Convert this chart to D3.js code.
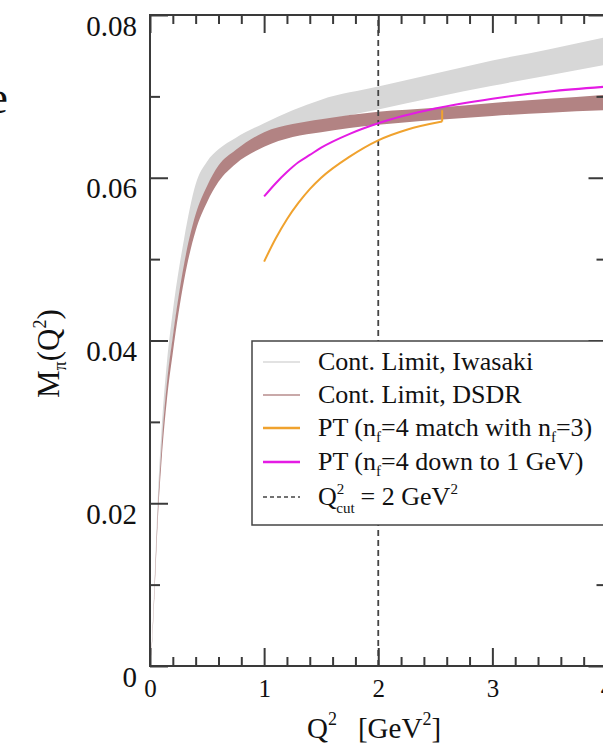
<!DOCTYPE html>
<html>
<head>
<meta charset="utf-8">
<script src="https://cdn.jsdelivr.net/npm/d3@7"></script>
<style>
  html, body { margin: 0; padding: 0; background: #fff; }
  svg { display: block; }
  text { font-family: "Liberation Serif", "DejaVu Serif", serif; fill: #111; }
</style>
</head>
<body>
<svg id="chart" width="603" height="745"></svg>
<script>
// Q^2 grid (GeV^2) for the continuum-limit bands
const q2Band = [0, 0.02, 0.04, 0.07, 0.10, 0.15, 0.20, 0.30, 0.40, 0.50, 0.60, 0.75, 1.00, 1.25, 1.50, 2.00, 2.50, 3.00, 3.50, 4.00];

// Iwasaki continuum limit: lower / upper edge of the band
const iwasakiLow  = [0, 0.0034, 0.0094, 0.0190, 0.0260, 0.0345, 0.0402, 0.0490, 0.0550, 0.0584, 0.0605, 0.0622, 0.0643, 0.0658, 0.0669, 0.0684, 0.0699, 0.0713, 0.0726, 0.0739];
const iwasakiHigh = [0, 0.0040, 0.0106, 0.0212, 0.0288, 0.0376, 0.0436, 0.0526, 0.0592, 0.0620, 0.0635, 0.0649, 0.0667, 0.0683, 0.0696, 0.0712, 0.0728, 0.0744, 0.0758, 0.0773];

// DSDR continuum limit: lower / upper edge of the band
const dsdrLow  = [0, 0.0032, 0.0090, 0.0183, 0.0250, 0.0330, 0.0385, 0.0475, 0.0535, 0.0570, 0.0595, 0.0617, 0.0638, 0.0650, 0.0656, 0.0665, 0.0671, 0.0676, 0.0680, 0.0683];
const dsdrHigh = [0, 0.0036, 0.0098, 0.0195, 0.0266, 0.0350, 0.0405, 0.0495, 0.0555, 0.0590, 0.0615, 0.0634, 0.0656, 0.0666, 0.0672, 0.0681, 0.0686, 0.0692, 0.0697, 0.0702];

// Perturbative curve, n_f=4 matched with n_f=3
const ptMatchQ2  = [1.00, 1.10, 1.20, 1.30, 1.40, 1.50, 1.75, 2.00, 2.25, 2.56];
const ptMatchVal = [0.0497, 0.0525, 0.0549, 0.0569, 0.0586, 0.0600, 0.0626, 0.0646, 0.0659, 0.0669];
// step at the matching point
const ptMatchStepQ2  = [2.56, 2.56];
const ptMatchStepVal = [0.0669, 0.0683];

// Perturbative curve, n_f=4 run down to 1 GeV
const ptDownQ2  = [1.00, 1.10, 1.20, 1.30, 1.40, 1.50, 1.75, 2.00, 2.50, 3.00, 3.50, 4.00];
const ptDownVal = [0.0577, 0.0593, 0.0607, 0.0619, 0.0628, 0.0637, 0.0654, 0.0667, 0.0685, 0.0697, 0.0706, 0.0712];

// Cut position
const q2Cut = 2;

// Axis ticks
const xMajor = [0, 1, 2, 3, 4];
const xTickLabels = ["0", "1", "2", "3", "4"];
const xMinor = d3.range(0, 20).map(i => i * 0.2).filter(v => Math.abs(v - Math.round(v)) > 1e-6);
const yMajor = [0, 0.02, 0.04, 0.06, 0.08];
const yTickLabels = ["0", "0.02", "0.04", "0.06", "0.08"];
const yMinor = [0.01, 0.03, 0.05, 0.07];

// Legend entries
const legendKeys = ["iwasaki", "dsdr", "ptMatch", "ptDown", "cut"];

const svg = d3.select("#chart");

const pLeft = 150, pRight = 606.5, pTop = 15, pBottom = 666;
const x = d3.scaleLinear().domain([0, 4]).range([pLeft, pRight]);
const y = d3.scaleLinear().domain([0, 0.08]).range([pBottom, pTop]);

const colors = {
  iwasakiBand: "#d7d7d7",
  dsdrBand: "#b28383",
  iwasakiLine: "#e2e2e2",
  dsdrLine: "#c9a9a9",
  ptMatch: "#f0a22e",
  ptDown: "#e41be4",
  axis: "#3a3a3a"
};

svg.append("defs").append("clipPath").attr("id", "plotclip")
  .append("rect").attr("x", pLeft).attr("y", pTop).attr("width", pRight - pLeft).attr("height", pBottom - pTop);

const plot = svg.append("g").attr("clip-path", "url(#plotclip)");

const area = d3.area()
  .x(d => x(d[0])).y0(d => y(d[1])).y1(d => y(d[2]))
  .curve(d3.curveMonotoneX);
const line = d3.line().x(d => x(d[0])).y(d => y(d[1])).curve(d3.curveMonotoneX);

plot.append("path")
  .datum(q2Band.map((q, i) => [q, iwasakiLow[i], iwasakiHigh[i]]))
  .attr("d", area).attr("fill", colors.iwasakiBand);

plot.append("path")
  .datum(q2Band.map((q, i) => [q, dsdrLow[i], dsdrHigh[i]]))
  .attr("d", area).attr("fill", colors.dsdrBand);

// Q^2 cut line
plot.append("line")
  .attr("x1", x(q2Cut)).attr("x2", x(q2Cut))
  .attr("y1", y(0)).attr("y2", y(0.08))
  .attr("stroke", "#444").attr("stroke-width", 1.8)
  .attr("stroke-dasharray", "6,4");

plot.append("path")
  .datum(ptMatchQ2.map((q, i) => [q, ptMatchVal[i]]))
  .attr("d", line).attr("fill", "none")
  .attr("stroke", colors.ptMatch).attr("stroke-width", 2);
plot.append("path")
  .datum(ptMatchStepQ2.map((q, i) => [q, ptMatchStepVal[i]]))
  .attr("d", d3.line().x(d => x(d[0])).y(d => y(d[1])))
  .attr("fill", "none").attr("stroke", colors.ptMatch).attr("stroke-width", 2);

plot.append("path")
  .datum(ptDownQ2.map((q, i) => [q, ptDownVal[i]]))
  .attr("d", line).attr("fill", "none")
  .attr("stroke", colors.ptDown).attr("stroke-width", 2);

// Axes: ticks point inward on all four sides
function styleAxis(g) {
  g.select(".domain").remove();
  g.selectAll(".tick line").attr("stroke", colors.axis).attr("stroke-width", 2);
}

svg.append("g").attr("transform", `translate(0,${pBottom})`)
  .call(d3.axisBottom(x).tickValues(xMinor).tickSize(-9).tickFormat(""))
  .call(styleAxis);
const xAx = svg.append("g").attr("transform", `translate(0,${pBottom})`)
  .call(d3.axisBottom(x).tickValues(xMajor).tickSize(-18).tickFormat((d, i) => xTickLabels[i]))
  .call(styleAxis);
xAx.selectAll(".tick text")
  .attr("y", 31).attr("dy", null)
  .attr("font-size", 25).attr("font-family", "Liberation Serif").attr("fill", "#111");

svg.append("g").attr("transform", `translate(0,${pTop})`)
  .call(d3.axisTop(x).tickValues(xMinor).tickSize(-9).tickFormat(""))
  .call(styleAxis);
svg.append("g").attr("transform", `translate(0,${pTop})`)
  .call(d3.axisTop(x).tickValues(xMajor).tickSize(-18).tickFormat(""))
  .call(styleAxis);

svg.append("g").attr("transform", `translate(${pLeft},0)`)
  .call(d3.axisLeft(y).tickValues(yMinor).tickSize(-10).tickFormat(""))
  .call(styleAxis);
const yAx = svg.append("g").attr("transform", `translate(${pLeft},0)`)
  .call(d3.axisLeft(y).tickValues(yMajor).tickSize(-18).tickFormat((d, i) => yTickLabels[i]))
  .call(styleAxis);
yAx.selectAll(".tick text")
  .attr("x", -13).attr("y", 20).attr("dy", null)
  .attr("text-anchor", "end")
  .attr("font-size", 29).attr("font-family", "Liberation Serif").attr("fill", "#111");

svg.append("g").attr("transform", `translate(${pRight},0)`)
  .call(d3.axisRight(y).tickValues(yMinor).tickSize(-10).tickFormat(""))
  .call(styleAxis);
svg.append("g").attr("transform", `translate(${pRight},0)`)
  .call(d3.axisRight(y).tickValues(yMajor).tickSize(-18).tickFormat(""))
  .call(styleAxis);

// Frame
svg.append("rect")
  .attr("x", pLeft).attr("y", pTop).attr("width", pRight - pLeft).attr("height", pBottom - pTop)
  .attr("fill", "none").attr("stroke", colors.axis).attr("stroke-width", 2);

// Axis titles
const xt = svg.append("text").attr("x", 307).attr("y", 738).attr("font-size", 29);
xt.append("tspan").text("Q");
xt.append("tspan").attr("dy", -13).attr("font-size", 18).text("2");
xt.append("tspan").attr("dy", 13).attr("dx", 21).text("[GeV");
xt.append("tspan").attr("dy", -13).attr("font-size", 18).text("2");
xt.append("tspan").attr("dy", 13).text("]");

const yt = svg.append("text")
  .attr("transform", "translate(59,398) rotate(-90)")
  .attr("font-size", 31);
yt.append("tspan").text("M");
yt.append("tspan").attr("dy", 7).attr("font-size", 18).text("π");
yt.append("tspan").attr("dy", -7).text("(Q");
yt.append("tspan").attr("dy", -13).attr("font-size", 18).text("2");
yt.append("tspan").attr("dy", 13).text(")");

// Stray letter at the page edge
svg.append("text").attr("x", 8).attr("y", 113).attr("text-anchor", "end")
  .attr("font-size", 46).attr("font-family", "Liberation Serif").text("e");

// Legend
const lg = svg.append("g");
lg.append("rect").attr("x", 252).attr("y", 341).attr("width", 420).attr("height", 184)
  .attr("fill", "#fff").attr("stroke", "#444").attr("stroke-width", 1.5);

const rowY = { iwasaki: 362, dsdr: 395, ptMatch: 428, ptDown: 462, cut: 497 };
const lx0 = 263, lx1 = 300, tx = 318, fs = 26;

function sample(key, color, width, dash) {
  lg.append("line").attr("x1", lx0).attr("x2", lx1)
    .attr("y1", rowY[key]).attr("y2", rowY[key])
    .attr("stroke", color).attr("stroke-width", width)
    .attr("stroke-dasharray", dash || null);
}
sample(legendKeys[0], colors.iwasakiLine, 2);
sample(legendKeys[1], colors.dsdrLine, 2);
sample(legendKeys[2], colors.ptMatch, 2.5);
sample(legendKeys[3], colors.ptDown, 2.5);
sample(legendKeys[4], "#444", 1.5, "4,3");

function legendText(key) {
  return lg.append("text").attr("x", tx).attr("y", rowY[key] + 8).attr("font-size", fs);
}
legendText("iwasaki").text("Cont. Limit, Iwasaki");
legendText("dsdr").text("Cont. Limit, DSDR");

const t3 = legendText("ptMatch");
t3.append("tspan").text("PT (n");
t3.append("tspan").attr("dy", 6).attr("font-size", 15).text("f");
t3.append("tspan").attr("dy", -6).text("=4 match with n");
t3.append("tspan").attr("dy", 6).attr("font-size", 15).text("f");
t3.append("tspan").attr("dy", -6).text("=3)");

const t4 = legendText("ptDown");
t4.append("tspan").text("PT (n");
t4.append("tspan").attr("dy", 6).attr("font-size", 15).text("f");
t4.append("tspan").attr("dy", -6).text("=4 down to 1 GeV)");

const t5 = legendText("cut");
t5.append("tspan").text("Q");
t5.append("tspan").attr("dy", -11).attr("font-size", 15).text("2");
t5.append("tspan").attr("dx", -8).attr("dy", 19).attr("font-size", 15).text("cut");
t5.append("tspan").attr("dx", 6).attr("dy", -8).text("= 2 GeV");
t5.append("tspan").attr("dy", -11).attr("font-size", 15).text("2");
</script>
</body>
</html>
